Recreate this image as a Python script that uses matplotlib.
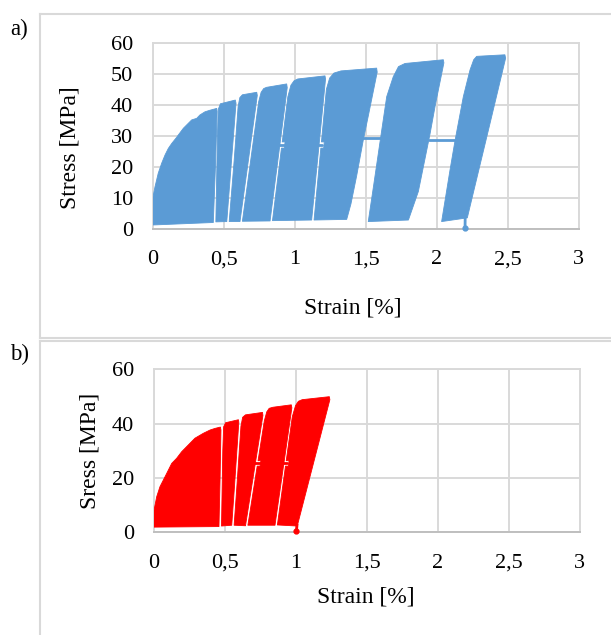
import numpy as np
import matplotlib
matplotlib.use("Agg")
import matplotlib.pyplot as plt
from matplotlib.patches import Polygon
from matplotlib.lines import Line2D

# ---------------- data (strain [%], stress [MPa]) ----------------
x_ticks = [0, 0.5, 1, 1.5, 2, 2.5, 3]
x_tick_labels = ["0", "0,5", "1", "1,5", "2", "2,5", "3"]
a_y_ticks = [0, 10, 20, 30, 40, 50, 60]
b_y_ticks = [0, 20, 40, 60]

# panel a) -- outline of each block of load cycles
a_left_strain = [
    [0.0, 0.0, 0.014, 0.037, 0.061, 0.085, 0.108, 0.132, 0.167, 0.178, 0.214, 0.273, 0.308, 0.331, 0.366, 0.40, 0.449],
    [0.443, 0.454, 0.460, 0.475],
    [0.537, 0.572, 0.60, 0.612, 0.63],
    [0.630, 0.745, 0.762, 0.78, 0.80],
    [0.842, 0.950, 0.972, 0.994, 1.02],
    [1.135, 1.222, 1.245, 1.275, 1.325],
    [1.517, 1.555, 1.612, 1.647, 1.693, 1.73, 1.776],
    [2.034, 2.093, 2.128, 2.187, 2.234, 2.26, 2.281],
]
a_left_stress = [
    [1.2, 10.3, 13.5, 17.9, 21.1, 23.8, 25.9, 27.5, 29.5, 30.2, 32.4, 35.1, 35.6, 36.7, 37.7, 38.2, 38.8],
    [2.2, 30.0, 38.5, 40.3],
    [2.3, 22.0, 39.5, 42.3, 43.2],
    [2.4, 41.0, 44.0, 45.2, 45.6],
    [2.6, 42.5, 46.3, 47.7, 48.3],
    [2.8, 45.0, 48.6, 50.2, 50.9],
    [2.3, 14.0, 31.8, 42.6, 49.0, 52.3, 53.3],
    [2.3, 18.9, 28.3, 42.6, 51.2, 54.5, 55.6],
]
a_right_strain = [
    [0.452, 0.44, 0.425],
    [0.58, 0.585, 0.55, 0.52],
    [0.731, 0.735, 0.613],
    [0.942, 0.946, 0.825],
    [1.212, 1.216, 1.118],
    [1.576, 1.58, 1.52, 1.482, 1.435, 1.395, 1.365],
    [2.046, 2.05, 1.99, 1.952, 1.87, 1.80],
    [2.48, 2.485, 2.37, 2.27, 2.215],
]
a_right_stress = [
    [37.8, 20.0, 2.0],
    [41.5, 40.5, 20.0, 2.3],
    [44.0, 43.0, 2.3],
    [46.7, 45.5, 2.5],
    [49.3, 48.3, 2.8],
    [51.8, 50.5, 37.0, 28.6, 17.0, 8.0, 3.0],
    [54.5, 53.5, 40.0, 30.5, 12.0, 2.8],
    [56.1, 55.0, 33.0, 14.0, 3.5],
]
a_notch_block = [4, 5]
a_notch_stress = [27.0, 27.0]
a_link_stress = [27.0, 29.3, 28.7]
a_link_start = [0.87, 1.48, 1.945]
a_link_end = [1.19, 1.612, 2.13]
a_tail_strain = [2.20, 2.199]
a_tail_stress = [3.5, 0.2]

# panel b)
b_left_strain = [
    [0.0, 0.0, 0.019, 0.042, 0.078, 0.125, 0.16, 0.195, 0.242, 0.289, 0.348, 0.395, 0.43, 0.468],
    [0.476, 0.485, 0.491, 0.505],
    [0.565, 0.582, 0.613, 0.625, 0.645],
    [0.662, 0.778, 0.795, 0.812, 0.838],
    [0.870, 0.975, 0.998, 1.018, 1.045],
]
b_left_stress = [
    [1.8, 8.0, 13.0, 16.7, 20.4, 25.3, 27.2, 29.6, 32.1, 34.6, 36.4, 37.6, 38.2, 38.7],
    [2.2, 30.0, 38.8, 40.3],
    [2.5, 15.0, 39.0, 42.3, 43.2],
    [2.5, 41.0, 44.3, 45.6, 46.0],
    [2.6, 42.5, 46.6, 48.2, 48.8],
]
b_right_strain = [
    [0.472, 0.466, 0.458],
    [0.595, 0.598, 0.565, 0.548],
    [0.765, 0.768, 0.645],
    [0.968, 0.972, 0.853],
    [1.236, 1.24, 1.01],
]
b_right_stress = [
    [37.6, 20.0, 2.0],
    [41.4, 40.5, 15.0, 2.5],
    [44.1, 43.0, 2.3],
    [46.9, 45.8, 2.5],
    [49.9, 48.8, 2.2],
]
b_notch_block = [3, 4]
b_notch_stress = [25.3, 25.3]
b_link_stress = [25.3]
b_link_start = [0.69]
b_link_end = [0.935]
b_tail_strain = [1.008, 1.004]
b_tail_stress = [2.5, 0.2]

BLUE = "#5B9BD5"
RED = "#FF0000"
GRID = "#d9d9d9"
SERIF = ["Liberation Serif", "DejaVu Serif"]


def notched(ls, ly, yc, h=1.0, w=0.02):
    ls = list(ls)
    ly = list(ly)
    x_lo = np.interp(yc - h, ly, ls)
    x_hi = np.interp(yc + h, ly, ls)
    out_s, out_y = [], []
    for s, y in zip(ls, ly):
        if y < yc - h:
            out_s.append(s)
            out_y.append(y)
    out_s += [x_lo, x_lo + w, x_hi + w, x_hi]
    out_y += [yc - h, yc - h, yc + h, yc + h]
    for s, y in zip(ls, ly):
        if y > yc + h:
            out_s.append(s)
            out_y.append(y)
    return out_s, out_y


def draw_panel(ax, ls_all, ly_all, rs_all, ry_all, notch_blk, notch_y,
               link_y, link_s0, link_s1, tail_s, tail_y, color):
    for k in range(len(ls_all)):
        ls, ly = ls_all[k], ly_all[k]
        if k in notch_blk:
            ls, ly = notched(ls, ly, notch_y[notch_blk.index(k)])
        xs = list(ls) + list(rs_all[k])
        ys = list(ly) + list(ry_all[k])
        poly = Polygon(np.column_stack([xs, ys]), closed=True, facecolor=color,
                       edgecolor=color, linewidth=0.6, joinstyle="round", zorder=3)
        ax.add_patch(poly)
    for y, s0, s1 in zip(link_y, link_s0, link_s1):
        ax.plot([s0, s1], [y, y], color=color, lw=2.0, solid_capstyle="round", zorder=4)
    ax.plot(tail_s, tail_y, color=color, lw=2.0, zorder=4, clip_on=False)
    ax.plot(tail_s[-1:], tail_y[-1:], "o", color=color, ms=3.5, zorder=4, clip_on=False)


def style_axes(ax, yticks):
    ax.set_xlim(0, 3)
    ax.set_ylim(0, 60)
    ax.set_xticks(x_ticks)
    ax.set_xticklabels(x_tick_labels, fontfamily=SERIF, fontsize=16)
    ax.set_yticks(yticks)
    ax.set_yticklabels([str(v) for v in yticks], fontfamily=SERIF, fontsize=16)
    ax.tick_params(length=0, colors="black")
    ax.tick_params(axis="y", pad=14.5)
    ax.tick_params(axis="x", pad=15.5)
    ax.grid(True, color=GRID, lw=1.4, zorder=0)
    ax.set_axisbelow(True)
    for side in ["left", "right", "top"]:
        ax.spines[side].set_color(GRID)
        ax.spines[side].set_linewidth(1.4)
    ax.spines["bottom"].set_color("#bfbfbf")
    ax.spines["bottom"].set_linewidth(1.4)


W, H = 611, 635
fig = plt.figure(figsize=(W / 100, H / 100), dpi=100)

ax_a = fig.add_axes([153 / W, 1 - 228.7 / H, 425.7 / W, 186 / H])
ax_b = fig.add_axes([154 / W, 1 - 532 / H, 425.5 / W, 162.7 / H])

draw_panel(ax_a, a_left_strain, a_left_stress, a_right_strain, a_right_stress,
           a_notch_block, a_notch_stress, a_link_stress, a_link_start, a_link_end,
           a_tail_strain, a_tail_stress, BLUE)
draw_panel(ax_b, b_left_strain, b_left_stress, b_right_strain, b_right_stress,
           b_notch_block, b_notch_stress, b_link_stress, b_link_start, b_link_end,
           b_tail_strain, b_tail_stress, RED)

style_axes(ax_a, a_y_ticks)
style_axes(ax_b, b_y_ticks)


def px_text(x, y, s, size, rot=0):
    fig.text(x / W, 1 - y / H, s, ha="center", va="center", rotation=rot,
             fontfamily=SERIF, fontsize=size)


# axis titles
ax_a.set_xlabel("Strain [%]", fontfamily=SERIF, fontsize=17)
ax_a.xaxis.set_label_coords((352.7 - 153) / 425.7, (228.7 - 308) / 186)
ax_a.xaxis.label.set_va("center")
ax_a.set_ylabel("Stress [MPa]", fontfamily=SERIF, fontsize=17)
ax_a.yaxis.set_label_coords((69.8 - 153) / 425.7, (228.7 - 147.7) / 186)
ax_a.yaxis.label.set_va("center")

ax_b.set_xlabel("Strain [%]", fontfamily=SERIF, fontsize=17)
ax_b.xaxis.set_label_coords((366.3 - 154) / 425.5, (532 - 597.5) / 162.7)
ax_b.xaxis.label.set_va("center")
ax_b.set_ylabel("Sress [MPa]", fontfamily=SERIF, fontsize=17)
ax_b.yaxis.set_label_coords((90 - 154) / 425.5, (532 - 450.8) / 162.7)
ax_b.yaxis.label.set_va("center")

px_text(19.5, 29.5, "a)", 16.5)
px_text(19.5, 354, "b)", 16.5)

# panel frames
def fline(xs, ys):
    fig.add_artist(Line2D([x / W for x in xs], [1 - y / H for y in ys],
                          color=GRID, lw=1.5, transform=fig.transFigure))

fline([40, 40], [13.5, 338])
fline([40, 611], [13.5, 13.5])
fline([40, 611], [337.5, 337.5])
fline([40, 611], [340.5, 340.5])
fline([40, 40], [340.5, 635])

fig.savefig("out.png", dpi=100, facecolor="white")
